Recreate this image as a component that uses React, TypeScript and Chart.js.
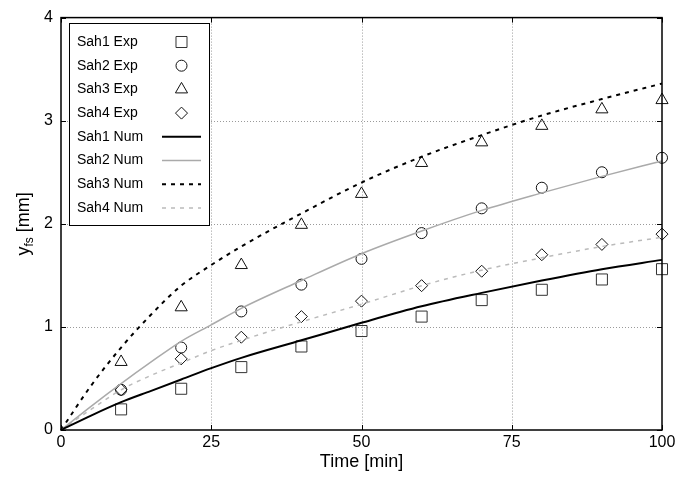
import React, { useEffect, useRef } from 'react';
import { Chart, registerables } from 'chart.js';

Chart.register(...registerables);

// ---- data ----
const expTimes = [10, 20, 30, 40, 50, 60, 70, 80, 90, 100];
const sah1Exp = [0.2, 0.4, 0.61, 0.81, 0.96, 1.1, 1.26, 1.36, 1.46, 1.56];
const sah2Exp = [0.39, 0.8, 1.15, 1.41, 1.66, 1.91, 2.15, 2.35, 2.5, 2.64];
const sah3Exp = [0.66, 1.19, 1.6, 1.99, 2.29, 2.59, 2.79, 2.95, 3.11, 3.2];
const sah4Exp = [0.39, 0.69, 0.9, 1.1, 1.25, 1.4, 1.54, 1.7, 1.8, 1.9];

const numTimes = [0, 5, 10, 15, 20, 25, 30, 40, 50, 60, 70, 80, 90, 100];
const sah1Num = [0, 0.14, 0.27, 0.38, 0.49, 0.6, 0.7, 0.87, 1.04, 1.2, 1.33, 1.45, 1.56, 1.65];
const sah2Num = [0, 0.23, 0.45, 0.66, 0.86, 1.02, 1.18, 1.45, 1.71, 1.93, 2.13, 2.3, 2.46, 2.61];
const sah3Num = [0, 0.43, 0.8, 1.12, 1.4, 1.6, 1.78, 2.1, 2.4, 2.65, 2.86, 3.05, 3.21, 3.36];
const sah4Num = [0, 0.2, 0.39, 0.53, 0.65, 0.77, 0.87, 1.05, 1.22, 1.4, 1.55, 1.67, 1.78, 1.87];

const xTicks = [0, 25, 50, 75, 100];
const yTicks = [0, 1, 2, 3, 4];
const legendLabels = [
  'Sah1 Exp', 'Sah2 Exp', 'Sah3 Exp', 'Sah4 Exp',
  'Sah1 Num', 'Sah2 Num', 'Sah3 Num', 'Sah4 Num',
];
const xTitle = 'Time [min]';

const FONT = '"Liberation Sans", Arial, Helvetica, sans-serif';

const toPts = (xs: number[], ys: number[]) => xs.map((x, i) => ({ x, y: ys[i] }));

type Sym = { kind: 'point' | 'line'; style?: string; r?: number; color: string; width?: number; dash?: number[] };
const symbols: Sym[] = [
  { kind: 'point', style: 'rect', r: 7.8, color: '#333' },
  { kind: 'point', style: 'circle', r: 5.5, color: '#111' },
  { kind: 'point', style: 'triangle', r: 7, color: '#111' },
  { kind: 'point', style: 'rectRot', r: 6, color: '#111' },
  { kind: 'line', color: '#000', width: 2, dash: [] },
  { kind: 'line', color: '#aaaaaa', width: 1.5, dash: [] },
  { kind: 'line', color: '#000', width: 2, dash: [4, 5] },
  { kind: 'line', color: '#bbbbbb', width: 1.5, dash: [4, 5] },
];

function drawSymbol(ctx: CanvasRenderingContext2D, s: Sym, cx: number, cy: number) {
  ctx.save();
  ctx.strokeStyle = s.color;
  ctx.lineWidth = 1;
  ctx.setLineDash([]);
  ctx.beginPath();
  const r = s.r || 5;
  if (s.style === 'rect') {
    const h = r * Math.SQRT1_2;
    ctx.rect(cx - h, cy - h, 2 * h, 2 * h);
  } else if (s.style === 'circle') {
    ctx.arc(cx, cy, r, 0, Math.PI * 2);
  } else if (s.style === 'triangle') {
    let a = 0;
    ctx.moveTo(cx + Math.sin(a) * r, cy - Math.cos(a) * r);
    a += (2 * Math.PI) / 3;
    ctx.lineTo(cx + Math.sin(a) * r, cy - Math.cos(a) * r);
    a += (2 * Math.PI) / 3;
    ctx.lineTo(cx + Math.sin(a) * r, cy - Math.cos(a) * r);
    ctx.closePath();
  } else if (s.style === 'rectRot') {
    ctx.moveTo(cx, cy - r);
    ctx.lineTo(cx + r, cy);
    ctx.lineTo(cx, cy + r);
    ctx.lineTo(cx - r, cy);
    ctx.closePath();
  }
  ctx.stroke();
  ctx.restore();
}

const framePlugin = {
  id: 'frame',
  beforeDatasetsDraw(chart: any) {
    const { ctx, chartArea: a, scales } = chart;
    const xs = scales.x;
    const ys = scales.y;
    ctx.save();
    ctx.strokeStyle = '#9a9a9a';
    ctx.lineWidth = 1;
    ctx.setLineDash([1, 2]);
    xTicks.slice(1, -1).forEach((v) => {
      const px = Math.round(xs.getPixelForValue(v)) + 0.5;
      ctx.beginPath();
      ctx.moveTo(px, a.top);
      ctx.lineTo(px, a.bottom);
      ctx.stroke();
    });
    yTicks.slice(1, -1).forEach((v) => {
      const py = Math.round(ys.getPixelForValue(v)) + 0.5;
      ctx.beginPath();
      ctx.moveTo(a.left, py);
      ctx.lineTo(a.right, py);
      ctx.stroke();
    });
    ctx.restore();
  },
  afterDatasetsDraw(chart: any) {
    const { ctx, chartArea: a, scales } = chart;
    const xs = scales.x;
    const ys = scales.y;
    ctx.save();
    // frame
    ctx.strokeStyle = '#000';
    ctx.lineWidth = 1.5;
    ctx.setLineDash([]);
    ctx.strokeRect(a.left, a.top, a.right - a.left, a.bottom - a.top);
    // inward ticks
    const tl = 5;
    ctx.lineWidth = 1;
    xTicks.forEach((v) => {
      const px = Math.round(xs.getPixelForValue(v)) + 0.5;
      ctx.beginPath();
      ctx.moveTo(px, a.bottom);
      ctx.lineTo(px, a.bottom - tl);
      ctx.moveTo(px, a.top);
      ctx.lineTo(px, a.top + tl);
      ctx.stroke();
    });
    yTicks.forEach((v) => {
      const py = Math.round(ys.getPixelForValue(v)) + 0.5;
      ctx.beginPath();
      ctx.moveTo(a.left, py);
      ctx.lineTo(a.left + tl, py);
      ctx.moveTo(a.right, py);
      ctx.lineTo(a.right - tl, py);
      ctx.stroke();
    });

    // legend
    const bx = 69.5, by = 23.5, bw = 140, bh = 202;
    ctx.fillStyle = '#fff';
    ctx.fillRect(bx, by, bw, bh);
    ctx.strokeStyle = '#000';
    ctx.lineWidth = 1;
    ctx.strokeRect(bx, by, bw, bh);
    ctx.font = `14px ${FONT}`;
    ctx.textBaseline = 'middle';
    ctx.textAlign = 'left';
    legendLabels.forEach((lab, i) => {
      const cy = 42 + i * 23.7;
      ctx.fillStyle = '#000';
      ctx.fillText(lab, 77, cy);
      const s = symbols[i];
      if (s.kind === 'point') {
        drawSymbol(ctx, s, 181.5, cy);
      } else {
        ctx.save();
        ctx.strokeStyle = s.color;
        ctx.lineWidth = s.width || 1;
        ctx.setLineDash(s.dash || []);
        ctx.beginPath();
        ctx.moveTo(162, cy);
        ctx.lineTo(201, cy);
        ctx.stroke();
        ctx.restore();
      }
    });

    // x title
    ctx.fillStyle = '#000';
    ctx.font = `18px ${FONT}`;
    ctx.textAlign = 'center';
    ctx.textBaseline = 'alphabetic';
    ctx.fillText(xTitle, (a.left + a.right) / 2, 467);

    // y title with subscript
    const big = `18px ${FONT}`;
    const small = `12px ${FONT}`;
    ctx.font = big;
    const wY = ctx.measureText('y').width;
    const wRest = ctx.measureText(' [mm]').width;
    ctx.font = small;
    const wSub = ctx.measureText('fs').width;
    const total = wY + wSub + wRest;
    ctx.translate(28.5, (a.top + a.bottom) / 2);
    ctx.rotate(-Math.PI / 2);
    ctx.textAlign = 'left';
    let x0 = -total / 2;
    ctx.font = big;
    ctx.fillText('y', x0, 0);
    x0 += wY;
    ctx.font = small;
    ctx.fillText('fs', x0, 4);
    x0 += wSub;
    ctx.font = big;
    ctx.fillText(' [mm]', x0, 0);
    ctx.restore();
  },
};

export default function App() {
  const ref = useRef<HTMLCanvasElement | null>(null);

  useEffect(() => {
    document.body.style.margin = '0';
    const canvas = ref.current;
    if (!canvas) return;

    const pointDs = (label: string, ys: number[], style: string, r: number, color: string) => ({
      label,
      data: toPts(expTimes, ys),
      showLine: false,
      pointStyle: style,
      pointRadius: r,
      pointHoverRadius: r,
      pointBorderWidth: 1,
      pointBorderColor: color,
      pointBackgroundColor: 'rgba(0,0,0,0)',
      borderColor: color,
      backgroundColor: 'rgba(0,0,0,0)',
      clip: false as any,
    });
    const lineDs = (label: string, ys: number[], color: string, width: number, dash: number[]) => ({
      label,
      data: toPts(numTimes, ys),
      showLine: true,
      pointRadius: 0,
      borderColor: color,
      borderWidth: width,
      borderDash: dash,
      backgroundColor: 'rgba(0,0,0,0)',
      fill: false,
      cubicInterpolationMode: 'monotone' as const,
      clip: false as any,
    });

    const chart = new Chart(canvas, {
      type: 'scatter',
      data: {
        datasets: [
          lineDs('Sah1 Num', sah1Num, symbols[4].color, 2, []),
          lineDs('Sah2 Num', sah2Num, symbols[5].color, 1.5, []),
          lineDs('Sah3 Num', sah3Num, symbols[6].color, 2, [4, 5]),
          lineDs('Sah4 Num', sah4Num, symbols[7].color, 1.5, [4, 5]),
          pointDs('Sah1 Exp', sah1Exp, 'rect', 7.8, symbols[0].color),
          pointDs('Sah2 Exp', sah2Exp, 'circle', 5.5, symbols[1].color),
          pointDs('Sah3 Exp', sah3Exp, 'triangle', 7, symbols[2].color),
          pointDs('Sah4 Exp', sah4Exp, 'rectRot', 6, symbols[3].color),
        ] as any,
      },
      options: {
        responsive: false,
        animation: false,
        events: [],
        layout: { padding: { top: 17, right: 19, left: 0, bottom: 0 } },
        plugins: {
          legend: { display: false },
          tooltip: { enabled: false },
        },
        scales: {
          x: {
            type: 'linear',
            min: 0,
            max: 100,
            afterBuildTicks: (s: any) => {
              s.ticks = xTicks.map((v) => ({ value: v }));
            },
            afterFit: (s: any) => {
              s.height = 47;
            },
            grid: { display: false, drawTicks: false },
            border: { display: false },
            ticks: {
              padding: 3,
              color: '#000',
              font: { family: FONT, size: 16 },
              maxRotation: 0,
              autoSkip: false,
            },
          },
          y: {
            type: 'linear',
            min: 0,
            max: 4,
            afterBuildTicks: (s: any) => {
              s.ticks = yTicks.map((v) => ({ value: v }));
            },
            afterFit: (s: any) => {
              s.width = 61;
            },
            grid: { display: false, drawTicks: false },
            border: { display: false },
            ticks: {
              padding: 8,
              color: '#000',
              font: { family: FONT, size: 16 },
              autoSkip: false,
            },
          },
        },
      },
      plugins: [framePlugin],
    });

    return () => chart.destroy();
  }, []);

  return (
    <div style={{ width: 681, height: 477, overflow: 'hidden', background: '#fff' }}>
      <canvas ref={ref} width={681} height={477} style={{ display: 'block' }} />
    </div>
  );
}
